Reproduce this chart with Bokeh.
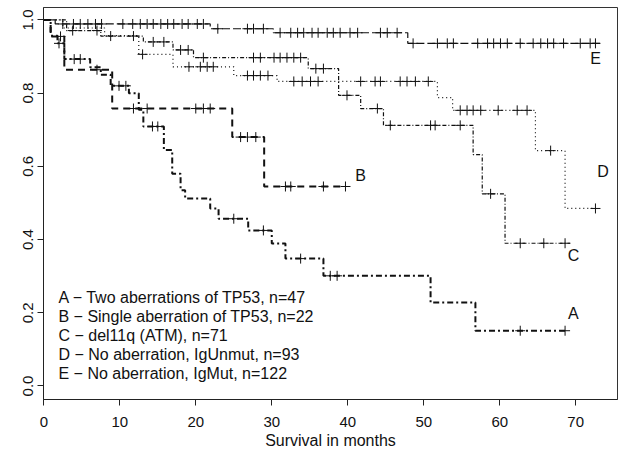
import numpy as np
from bokeh.plotting import figure
from bokeh.models import FixedTicker, Range1d, PrintfTickFormatter
from bokeh.embed import file_html
from bokeh.resources import INLINE
from bokeh.core.properties import value

# ---------------- data (months, survival probability) ----------------
A_times = [0, 0.9, 1.8, 2.7, 6.1, 7.5, 8.8, 11.2, 12.5, 13.1, 15.8, 16.9, 18.0, 18.6, 21.9, 23.0, 26.9, 30.0, 31.8, 36.8, 50.9, 56.8]
A_surv = [1.0, 0.957, 0.936, 0.893, 0.871, 0.85, 0.82, 0.80, 0.755, 0.709, 0.645, 0.58, 0.535, 0.512, 0.485, 0.457, 0.425, 0.389, 0.348, 0.301, 0.228, 0.151]
A_end = 68.6
A_censor = [2.0, 4.0, 4.8, 9.9, 10.8, 14.3, 15.0, 25.0, 28.9, 33.8, 37.7, 38.6, 62.7, 68.6]

B_times = [0, 0.9, 2.7, 9.0, 24.8, 29.0]
B_surv = [1.0, 0.955, 0.864, 0.758, 0.68, 0.545]
B_end = 39.7
B_censor = [2.2, 7.0, 11.8, 13.6, 20.0, 21.0, 21.9, 25.9, 26.8, 27.9, 31.8, 32.5, 36.8, 39.7]

C_times = [0, 3.0, 7.5, 13.1, 17.0, 19.7, 34.8, 38.8, 41.7, 44.7, 56.5, 57.7, 60.7]
C_surv = [1.0, 0.971, 0.956, 0.94, 0.918, 0.897, 0.867, 0.794, 0.758, 0.712, 0.632, 0.525, 0.39]
C_end = 69.3
C_censor = [3.8, 7.0, 8.8, 11.8, 14.4, 15.8, 18.0, 19.0, 21.0, 27.6, 28.5, 30.3, 31.1, 32.0, 32.9, 33.8,
            35.8, 36.8, 39.9, 43.9, 45.6, 50.9, 51.5, 54.8, 58.8, 62.7, 65.8, 68.6]

D_times = [0, 2.5, 8.0, 12.5, 17.0, 25.0, 30.7, 51.8, 53.8, 64.7, 68.6]
D_surv = [1.0, 0.978, 0.957, 0.906, 0.872, 0.848, 0.832, 0.788, 0.753, 0.643, 0.485]
D_end = 72.6
D_censor = [13.0, 19.1, 20.6, 21.5, 22.3, 26.8, 27.6, 28.5, 29.5, 32.9, 34.0, 35.1, 36.1, 41.7, 43.6, 44.3,
            46.9, 47.8, 48.9, 50.6, 54.8, 55.7, 56.5, 57.5, 59.8, 62.3, 63.6, 66.7, 72.6]

E_times = [0, 1.5, 21.9, 30.2, 47.9]
E_surv = [1.0, 0.989, 0.976, 0.965, 0.936]
E_end = 73.2
E_censor = [2.5, 3.9, 4.8, 5.8, 6.8, 7.6, 10.4, 11.7, 12.7, 13.6, 14.4, 15.4, 16.3, 17.1, 18.2, 19.0, 20.2, 21.0,
            22.9, 26.8, 27.6, 28.9, 31.1, 32.5, 33.4, 34.2, 35.3, 36.1, 37.3, 38.1, 39.0, 40.3, 41.3, 44.3, 45.2, 46.5,
            48.6, 51.8, 53.1, 53.9, 57.1, 58.4, 59.2, 60.1, 61.0, 62.7, 64.4, 65.4, 66.3, 67.1, 68.4, 70.6, 71.9, 72.6]

legend_lines = ["A \u2212 Two aberrations of TP53, n=47",
                "B \u2212 Single aberration of TP53, n=22",
                "C \u2212 del11q (ATM), n=71",
                "D \u2212 No aberration, IgUnmut, n=93",
                "E \u2212 No aberration, IgMut, n=122"]
curve_labels = ["A", "B", "C", "D", "E"]
label_x = [69.7, 41.7, 69.7, 73.6, 72.6]
label_y = [0.197, 0.575, 0.357, 0.586, 0.895]

x_ticks = [0, 10, 20, 30, 40, 50, 60, 70]
y_ticks = [0.0, 0.2, 0.4, 0.6, 0.8, 1.0]

FONT = "Liberation Sans"
INK = "#111111"

p = figure(width=618, height=451, output_backend="svg", toolbar_location=None,
           x_range=Range1d(-0.04, 75.5), y_range=Range1d(-0.0369, 1.034),
           min_border_left=43, min_border_right=1, min_border_top=7, min_border_bottom=52)
p.background_fill_color = "white"
p.border_fill_color = "white"
p.grid.visible = False
p.outline_line_color = "#333333"
p.outline_line_width = 1

for ax in (p.xaxis[0], p.yaxis[0]):
    ax.axis_line_color = "#222222"
    ax.major_tick_line_color = "#222222"
    ax.major_tick_out = 6
    ax.major_tick_in = 0
    ax.minor_tick_line_color = None
    ax.major_label_text_font = FONT
    ax.major_label_text_font_size = "15px"
    ax.major_label_text_color = INK
    ax.axis_label_text_font = FONT
    ax.axis_label_text_font_style = "normal"
    ax.axis_label_text_color = INK

p.xaxis.ticker = FixedTicker(ticks=x_ticks)
p.xaxis.major_label_standoff = 11
p.xaxis.axis_label = "Survival in months"
p.xaxis.axis_label_text_font_size = "16px"
p.xaxis.axis_label_standoff = 2

p.yaxis.ticker = FixedTicker(ticks=y_ticks)
p.yaxis.formatter = PrintfTickFormatter(format="%.1f")
p.yaxis.major_label_orientation = "vertical"
p.yaxis.major_label_standoff = 4


def km(times, surv, end, censor, dash, width):
    t = list(times) + [end]
    s = list(surv) + [surv[-1]]
    p.step(x=t, y=s, mode="after", line_color=INK, line_width=width, line_dash=dash)
    tt = np.array(times)
    ss = np.array(surv)
    c = np.array(censor)
    idx = np.searchsorted(tt, c, side="right") - 1
    p.scatter(x=c, y=ss[idx], marker="cross", size=10, line_color=INK, line_width=1)


km(E_times, E_surv, E_end, E_censor, "8 3", 1.2)
km(D_times, D_surv, D_end, D_censor, "1 3", 1.2)
km(C_times, C_surv, C_end, C_censor, "4 2 1 2", 1.2)
km(B_times, B_surv, B_end, B_censor, "7 5", 2)
km(A_times, A_surv, A_end, A_censor, "6 3 2 3", 2)

# curve letters
p.text(x=label_x, y=label_y, text=curve_labels, text_font=value(FONT), text_font_size="16px",
       text_color=INK, text_align="center", text_baseline="middle")

# legend block (text only, as in the original)
leg_y0 = 0.2426
leg_dy = 0.0518
p.text(x=[1.93] * len(legend_lines), y=[leg_y0 - i * leg_dy for i in range(len(legend_lines))],
       text=legend_lines, text_font=value(FONT), text_font_size="16px", text_color=INK,
       text_align="left", text_baseline="middle")

open("out.html", "w").write(file_html(p, INLINE))
